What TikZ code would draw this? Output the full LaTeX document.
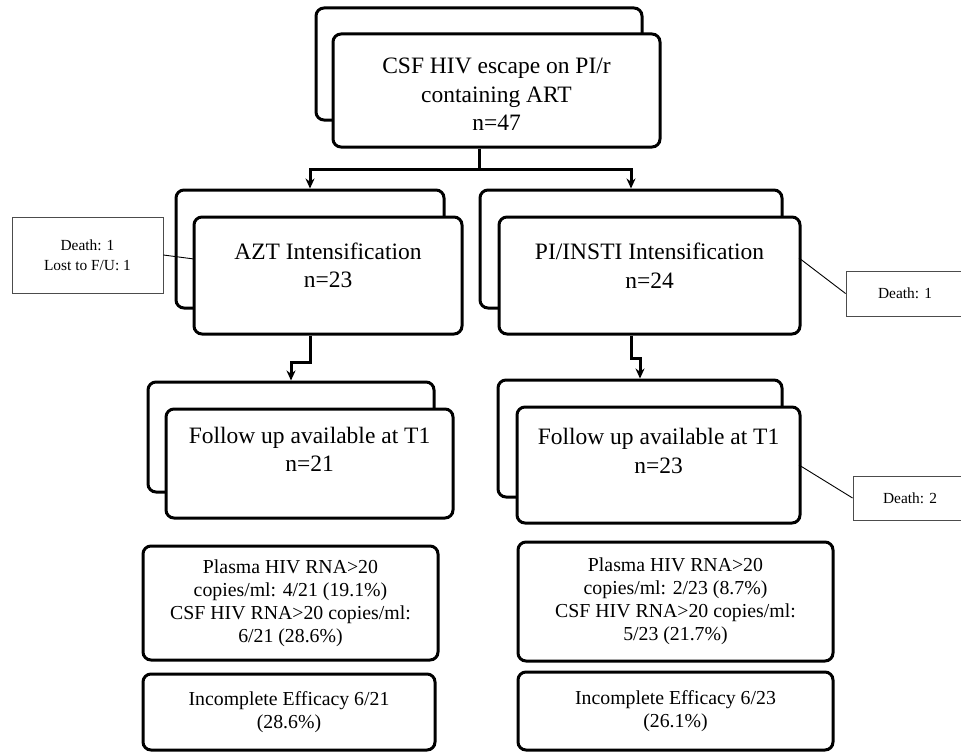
\documentclass[tikz,border=0pt]{standalone}
\usepackage{fontspec}
\setmainfont{Liberation Serif}
\usetikzlibrary{arrows.meta,calc}
\tikzset{
  boxbase/.style={draw=black, line width=3pt, rounded corners=8pt, inner sep=0pt, fill=white},
  backbox/.style={boxbase},
  frontbox/.style={boxbase, align=center, font=\fontsize{23.5}{28.5}\selectfont},
  resbox/.style={boxbase, align=center, font=\fontsize{19.8}{23}\selectfont},
  notebox/.style={draw=black!70, line width=0.9pt, inner sep=0pt, fill=white, align=center, font=\fontsize{15.4}{20}\selectfont},
  lbl/.style={align=center, font=\fontsize{23.5}{28.5}\selectfont, inner sep=0pt},
  arr/.style={line width=3pt, -{Stealth[length=10pt,width=9pt]}},
  conn/.style={line width=3pt},
  thinline/.style={line width=0.9pt, black}
}
\begin{document}
\begin{tikzpicture}[x=1pt,y=-1pt]
\clip (0,0) rectangle (961,752);
\fill[white] (0,0) rectangle (961,752);
% top
\node[backbox, minimum width=326pt, minimum height=112pt] (topb) at (479,64) {};
\node[frontbox, minimum width=327pt, minimum height=113pt,
  label={[lbl, yshift=-4pt]center:CSF HIV escape on PI/r\\containing ART\\n=47}] (top) at (496.5,90.5) {};
% second level
\node[backbox, minimum width=268pt, minimum height=118pt] (aztb) at (310,249) {};
\node[frontbox, minimum width=268pt, minimum height=117pt,
  label={[lbl, yshift=10pt]center:AZT Intensification\\n=23}] (azt) at (328,275.5) {};
\node[backbox, minimum width=302pt, minimum height=118pt] (pib) at (631,249) {};
\node[frontbox, minimum width=301pt, minimum height=117pt,
  label={[lbl, yshift=10pt]center:PI/INSTI Intensification\\n=24}] (pi) at (649.5,275.5) {};
% follow up
\node[backbox, minimum width=286pt, minimum height=110pt] (fulb) at (291,437) {};
\node[frontbox, minimum width=287pt, minimum height=109pt,
  label={[lbl, yshift=14pt]center:Follow up available at T1\\n=21}] (ful) at (309.5,463.5) {};
\node[backbox, minimum width=284pt, minimum height=117pt] (furb) at (640,438.5) {};
\node[frontbox, minimum width=283pt, minimum height=116pt,
  label={[lbl, yshift=14pt]center:Follow up available at T1\\n=23}] (fur) at (658.5,465) {};
% results
\node[resbox, minimum width=295pt, minimum height=114pt] (pll) at (290.5,603) {Plasma HIV RNA>20\\copies/ml: 4/21 (19.1\%)\\CSF HIV RNA>20 copies/ml:\\6/21 (28.6\%)};
\node[resbox, minimum width=315pt, minimum height=119pt] (plr) at (675.5,601.5) {Plasma HIV RNA>20\\copies/ml: 2/23 (8.7\%)\\CSF HIV RNA>20 copies/ml:\\5/23 (21.7\%)};
\node[resbox, minimum width=292pt, minimum height=76pt] (incl) at (289,712) {Incomplete Efficacy 6/21\\(28.6\%)};
\node[resbox, minimum width=315pt, minimum height=78pt] (incr) at (675.5,711) {Incomplete Efficacy 6/23\\(26.1\%)};
% notes
\node[notebox, minimum width=151pt, minimum height=76pt] (n1) at (87.5,255) {Death: 1\\Lost to F/U: 1};
\node[notebox, minimum width=118pt, minimum height=45pt] (n2) at (905,293.5) {Death: 1};
\node[notebox, minimum width=114pt, minimum height=44pt] (n3) at (910,498) {Death: 2};
\coordinate (n1end) at (194,259);
\coordinate (n2start) at (799,258);
\coordinate (n3start) at (799,465);
\draw[thinline] (n1.east) -- (n1end);
\draw[thinline] (n2start) -- (n2.west);
\draw[thinline] (n3start) -- (n3.west);
% connectors
\coordinate (split) at ($(topb.center |- top.south)+(0,21)$);
\draw[conn] (topb.center |- top.south) -- (split);
\draw[arr] (split) -| (aztb.north);
\draw[arr] (split) -| (pib.north);
\draw[arr] (aztb.center |- azt.south) -- ++(0,27) -| (fulb.north);
\draw[arr] (pib.center |- pi.south) -- ++(0,23) -| (furb.north);
\end{tikzpicture}
\end{document}
